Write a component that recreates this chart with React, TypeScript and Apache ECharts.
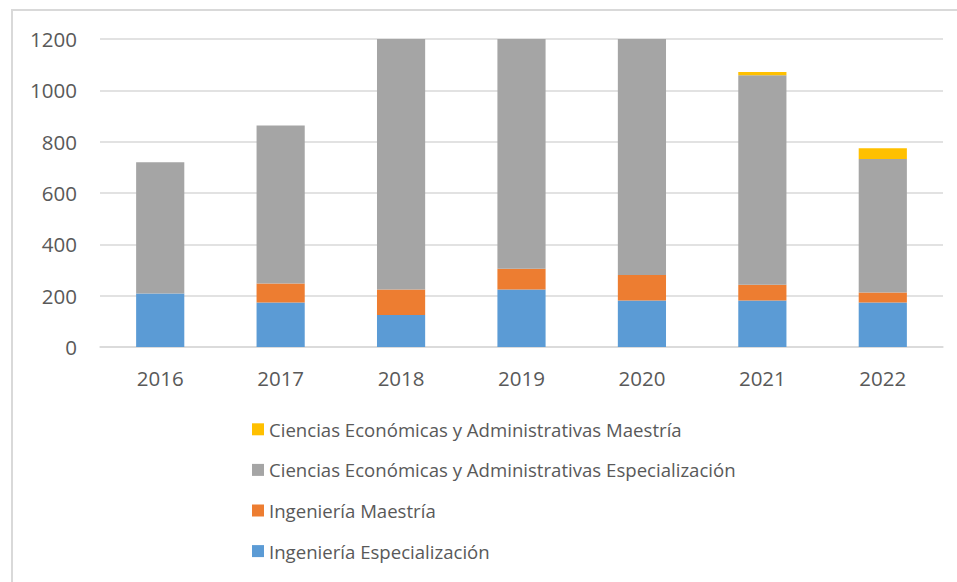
import React, { useEffect, useRef } from "react";
import * as echarts from "echarts";

const years = ["2016", "2017", "2018", "2019", "2020", "2021", "2022"];
const ingEspecializacion = [208, 173, 125, 224, 181, 181, 173];
const ingMaestria = [0, 74, 99, 81, 100, 62, 39];
const cceaEspecializacion = [512, 616, 1150, 1050, 1100, 816, 520];
const cceaMaestria = [0, 0, 0, 0, 0, 12, 42];

const names = [
  "Ingeniería Especialización",
  "Ingeniería Maestría",
  "Ciencias Económicas y Administrativas Especialización",
  "Ciencias Económicas y Administrativas Maestría",
];
const colors = ["#5B9BD5", "#ED7D31", "#A5A5A5", "#FFC000"];
const yTicks = { min: 0, max: 1200, interval: 200 };

const FONT = "'Open Sans', 'Noto Sans', sans-serif";

export default function App() {
  const ref = useRef<HTMLDivElement>(null);
  useEffect(() => {
    document.body.style.margin = "0";
    if (!ref.current) return;
    const chart = echarts.init(ref.current, null, { renderer: "svg" });
    const data = [ingEspecializacion, ingMaestria, cceaEspecializacion, cceaMaestria];
    chart.setOption({
      animation: false,
      backgroundColor: "#ffffff",
      textStyle: { fontFamily: FONT },
      grid: { left: 100, right: 14, top: 39, bottom: 235, containLabel: false },
      graphic: [
        {
          type: "rect",
          shape: { x: 12, y: 10, width: 980, height: 620 },
          style: { fill: "none", stroke: "#d9d9d9", lineWidth: 2 },
          silent: true,
        },
      ],
      legend: {
        orient: "vertical",
        left: 252,
        top: 419,
        padding: 0,
        itemWidth: 12,
        itemHeight: 12,
        itemGap: 20,
        icon: "rect",
        data: [names[3], names[2], names[1], names[0]],
        textStyle: { color: "#595959", fontSize: 18.6, fontFamily: FONT, lineHeight: 20.6 },
      },
      xAxis: {
        type: "category",
        data: years,
        axisLine: { lineStyle: { color: "#d9d9d9", width: 1.5 } },
        axisTick: { show: false },
        axisLabel: { color: "#595959", fontSize: 20.5, margin: 20, fontFamily: FONT },
      },
      yAxis: {
        type: "value",
        min: yTicks.min,
        max: yTicks.max,
        interval: yTicks.interval,
        axisLine: { show: false },
        axisTick: { show: false },
        splitLine: { lineStyle: { color: "#d9d9d9", width: 1.5 } },
        axisLabel: {
          color: "#595959",
          fontSize: 20.5,
          margin: 23,
          fontFamily: FONT,
          formatter: (v: number) => String(v),
        },
      },
      series: names.map((n, i) => ({
        name: n,
        type: "bar",
        stack: "total",
        barWidth: "40%",
        clip: true,
        itemStyle: { color: colors[i] },
        data: data[i],
      })),
    });
    return () => chart.dispose();
  }, []);
  return <div ref={ref} style={{ width: 957, height: 582 }} />;
}
